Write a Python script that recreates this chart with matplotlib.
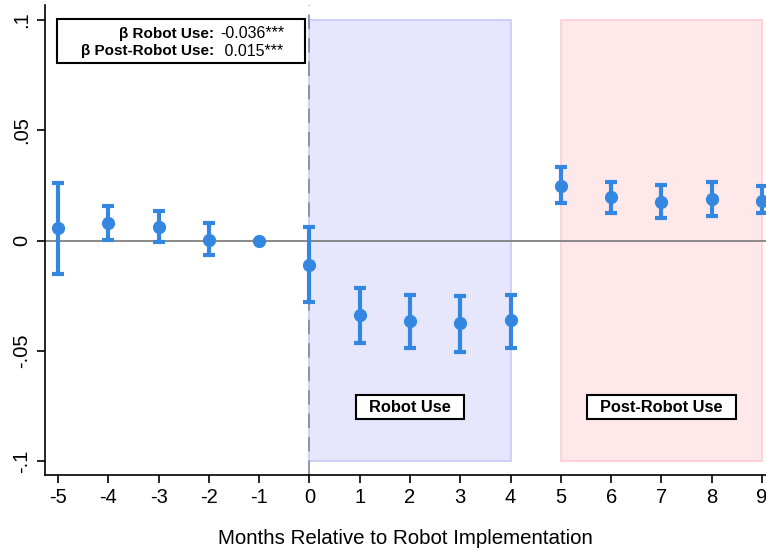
import matplotlib.pyplot as plt
from matplotlib.patches import Rectangle

plt.rcParams['font.family'] = ['Liberation Sans', 'DejaVu Sans']
plt.rcParams['axes.unicode_minus'] = False

# event-study estimates, months relative to robot implementation
months = [-5, -4, -3, -2, -1, 0, 1, 2, 3, 4, 5, 6, 7, 8, 9]
coef = [0.0055, 0.0078, 0.0063, 0.0002, 0.0, -0.0111, -0.0338, -0.0365, -0.0374, -0.0360,
        0.0247, 0.0196, 0.0176, 0.0190, 0.0180]
ci_low = [-0.0152, 0.0001, -0.0008, -0.0067, 0.0, -0.0280, -0.0465, -0.0488, -0.0506, -0.0488,
          0.0169, 0.0126, 0.0103, 0.0112, 0.0125]
ci_high = [0.0262, 0.0158, 0.0135, 0.0078, 0.0, 0.0063, -0.0215, -0.0247, -0.0252, -0.0247,
           0.0332, 0.0267, 0.0253, 0.0267, 0.0247]

yticks = [-0.1, -0.05, 0, 0.05, 0.1]
ytick_labels = ['-.1', '-.05', '0', '.05', '.1']

robot_period = (0, 4)
post_period = (5, 9)
beta_labels = ['β Robot Use:', 'β Post-Robot Use:']
beta_values = ['-0.036***', ' 0.015***']

blue = '#3487E0'

fig = plt.figure(figsize=(7.66, 5.52), dpi=100)
ax = fig.add_axes([45 / 766, 1 - 475 / 552, 1 - 45 / 766, (475 - 5) / 552])

# shaded periods
ax.add_patch(Rectangle((robot_period[0], -0.1), robot_period[1] - robot_period[0], 0.2,
                       facecolor='#E6E6FD', edgecolor='#C9C9F6', lw=1.2, zorder=0))
ax.add_patch(Rectangle((post_period[0], -0.1), post_period[1] - post_period[0], 0.2,
                       facecolor='#FFE8EA', edgecolor='#FFCDD2', lw=1.2, zorder=0))

ax.axhline(0, color='#808080', lw=1.3, zorder=1)
ax.axvline(0, color='#8A8AA5', lw=1.3, ls=(0, (8, 5)), zorder=1)

yerr = [[c - l for c, l in zip(coef, ci_low)], [h - c for c, h in zip(coef, ci_high)]]
eb = ax.errorbar(months, coef, yerr=yerr, fmt='o', color=blue, ms=8.5, elinewidth=3,
                 capsize=4.5, capthick=3, zorder=3, clip_on=False)

ax.set_xlim(-5.26, 9.08)
ax.set_ylim(-0.1063, 0.1068)
ax.set_xticks(months)
ax.set_yticks(yticks)
ax.set_yticklabels(ytick_labels, rotation=90, va='center')
ax.tick_params(axis='both', direction='out', length=6, width=1.2, labelsize=14.5)
ax.tick_params(axis='y', pad=4)
ax.spines['top'].set_visible(False)
ax.spines['right'].set_visible(False)
ax.spines['left'].set_linewidth(1.2)
ax.spines['bottom'].set_linewidth(1.2)
ax.set_xlabel('Months Relative to Robot Implementation', fontsize=14.8, labelpad=16)

box = dict(boxstyle='square,pad=0.27', facecolor='white', edgecolor='black', lw=1.5)
ax.text(sum(robot_period) / 2, -0.0755, '  Robot Use  ', ha='center', va='center',
        fontsize=11.8, fontweight='bold', bbox=box, zorder=4)
ax.text(7, -0.0755, '  Post-Robot Use  ', ha='center', va='center',
        fontsize=11.8, fontweight='bold', bbox=box, zorder=4)

# coefficient summary box (pixel positions in figure)
W, H = 766, 552
fig.patches.append(Rectangle((57 / W, 1 - 63 / H), (305 - 57) / W, 44 / H,
                             transform=fig.transFigure, facecolor='white',
                             edgecolor='black', lw=1.5, zorder=5))
for i, (lab, val) in enumerate(zip(beta_labels, beta_values)):
    yy = 1 - (34 + i * 17) / H
    fig.text(214 / W, yy, lab, ha='right', va='center', fontsize=11,
             fontweight='bold', zorder=6)
    fig.text(220 / W, yy, val, ha='left', va='center', fontsize=11.5, zorder=6)

fig.savefig('out.png', dpi=100)
